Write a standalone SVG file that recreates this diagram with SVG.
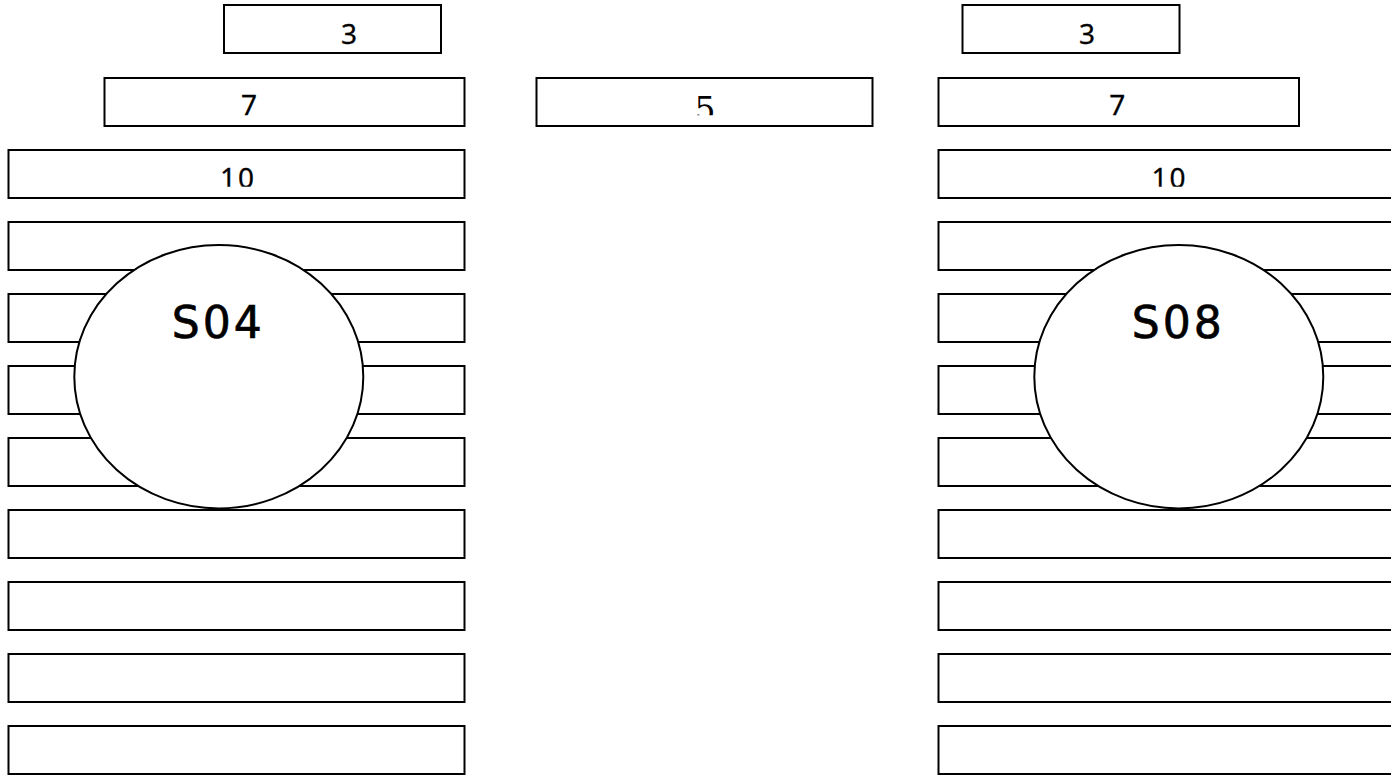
<svg xmlns="http://www.w3.org/2000/svg" width="1391" height="776" viewBox="0 0 1391 776">
<style>
.box{fill:#fff;stroke:#000;stroke-width:2}
.ell{fill:#fff;stroke:#000;stroke-width:2}
.num{font-family:"Noto Sans",sans-serif;font-size:28px;fill:#000;stroke:#000;stroke-width:0.3;text-anchor:middle}
.ser{font-family:"DejaVu Serif",serif;font-size:33px;fill:#000;text-anchor:middle}
.big{font-family:"DejaVu Sans",sans-serif;font-size:44px;fill:#000;stroke:#000;stroke-width:0.7;text-anchor:middle;letter-spacing:3px}
</style>
<defs>
<clipPath id="c10"><rect x="0" y="150" width="1391" height="36.7"/></clipPath>
<clipPath id="c5"><rect x="536" y="78" width="337" height="37.3"/></clipPath>
</defs>
<rect width="1391" height="776" fill="#fff"/>
<g id="connectors"></g>
<g id="left-stack">
<g id="L3"><rect class="box" x="224" y="5" width="217" height="48"/><text class="num" x="349" y="44.3">3</text></g>
<g id="L7"><rect class="box" x="104.5" y="78" width="360" height="48"/><text class="num" x="249" y="115">7</text></g>
<g id="L10"><rect class="box" x="8.5" y="150" width="456" height="48"/><text class="num" x="238" y="188.3" letter-spacing="2" clip-path="url(#c10)">10</text></g>
<rect class="box" x="8.5" y="222" width="456" height="48"/>
<rect class="box" x="8.5" y="294" width="456" height="48"/>
<rect class="box" x="8.5" y="366" width="456" height="48"/>
<rect class="box" x="8.5" y="438" width="456" height="48"/>
<rect class="box" x="8.5" y="510" width="456" height="48"/>
<rect class="box" x="8.5" y="582" width="456" height="48"/>
<rect class="box" x="8.5" y="654" width="456" height="48"/>
<rect class="box" x="8.5" y="726" width="456" height="48"/>
</g>
<g id="M5"><rect class="box" x="536.5" y="78" width="336" height="48"/><text class="ser" x="705" y="121" clip-path="url(#c5)">5</text></g>
<g id="right-stack">
<g id="R3"><rect class="box" x="962.5" y="5" width="217" height="48"/><text class="num" x="1087" y="44.3">3</text></g>
<g id="R7"><rect class="box" x="938.5" y="78" width="360.5" height="48"/><text class="num" x="1117.3" y="115">7</text></g>
<g id="R10"><rect class="box" x="938.5" y="150" width="500" height="48"/><text class="num" x="1169.5" y="188.3" letter-spacing="2" clip-path="url(#c10)">10</text></g>
<rect class="box" x="938.5" y="222" width="500" height="48"/>
<rect class="box" x="938.5" y="294" width="500" height="48"/>
<rect class="box" x="938.5" y="366" width="500" height="48"/>
<rect class="box" x="938.5" y="438" width="500" height="48"/>
<rect class="box" x="938.5" y="510" width="500" height="48"/>
<rect class="box" x="938.5" y="582" width="500" height="48"/>
<rect class="box" x="938.5" y="654" width="500" height="48"/>
<rect class="box" x="938.5" y="726" width="500" height="48"/>
</g>
<g id="S04"><ellipse class="ell" cx="218.8" cy="376.7" rx="144.5" ry="131.7"/><text class="big" x="218.2" y="338">S04</text></g>
<g id="S08"><ellipse class="ell" cx="1178.8" cy="376.7" rx="144.5" ry="131.7"/><text class="big" x="1178.2" y="338">S08</text></g>
</svg>
